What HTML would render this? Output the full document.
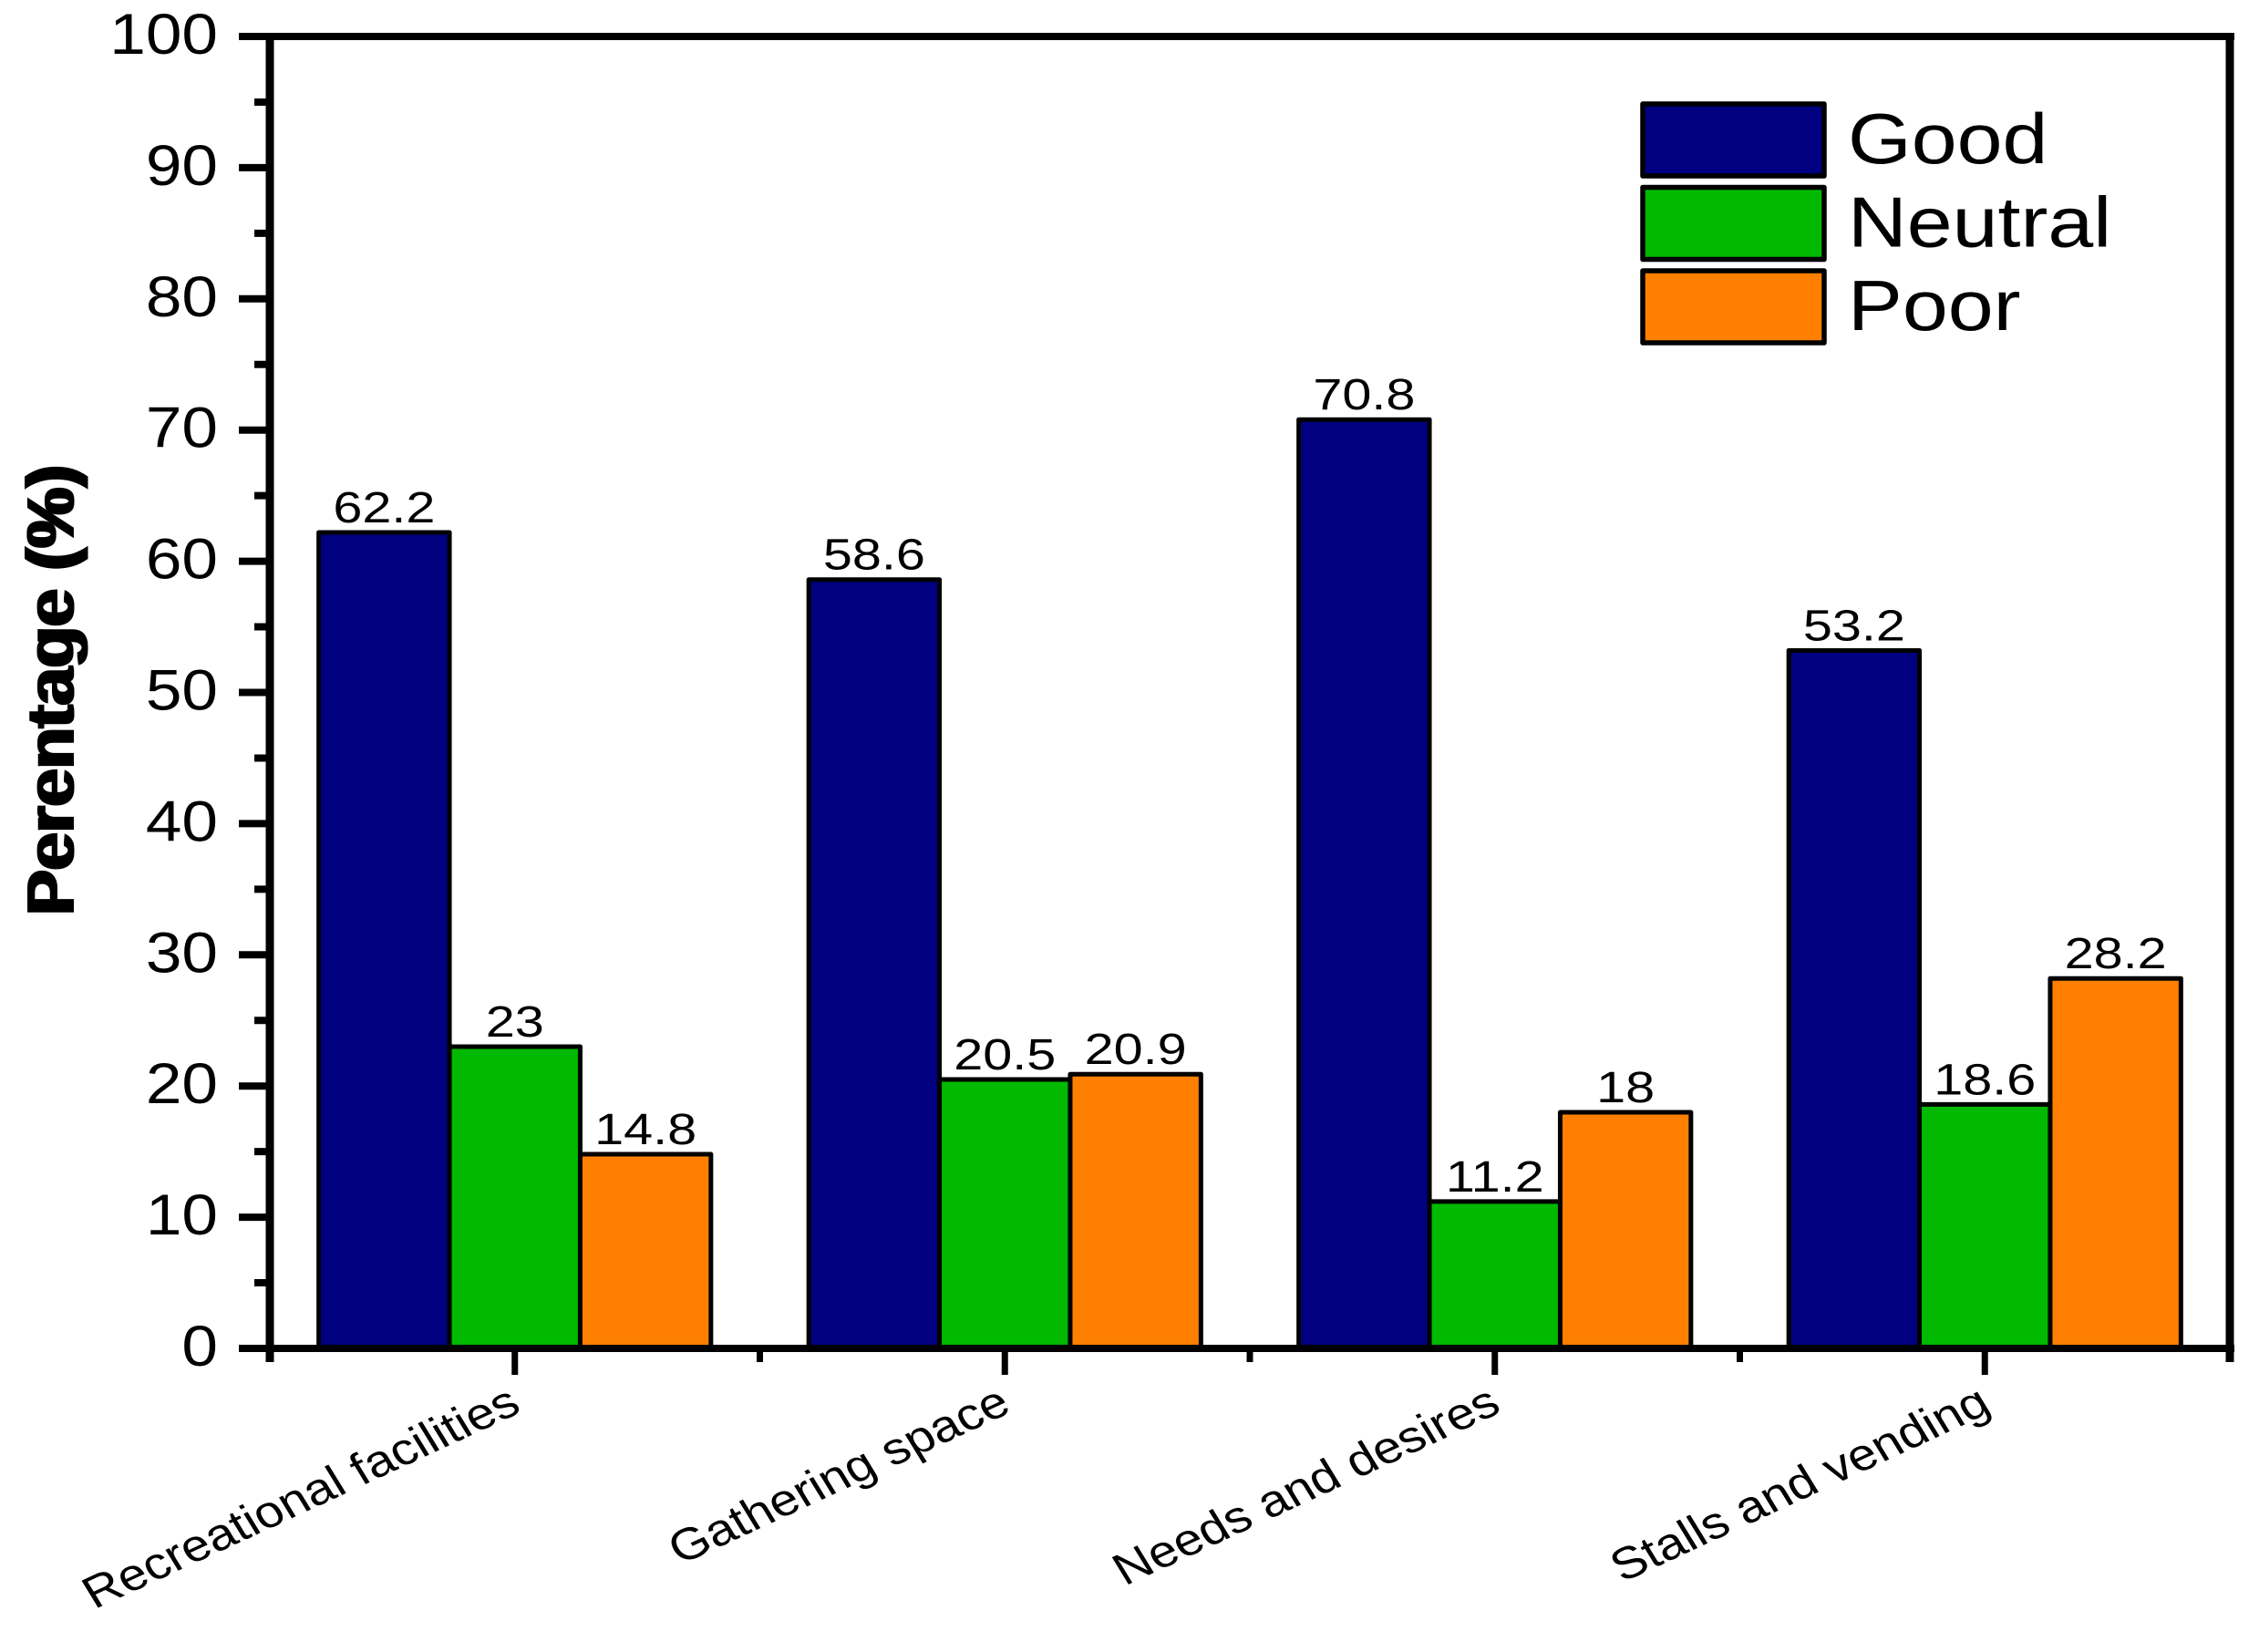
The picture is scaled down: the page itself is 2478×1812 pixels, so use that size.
<!DOCTYPE html>
<html lang="en">
<head>
<meta charset="utf-8">
<title>Perentage by category</title>
<style>
html,body{margin:0;padding:0;background:#fff;}
svg{display:block;}
text{font-family:"Liberation Sans",Arial,sans-serif;fill:#000;}
</style>
</head>
<body>
<svg id="chart" xmlns="http://www.w3.org/2000/svg" width="2478" height="1812" viewBox="0 0 2478 1812">
<defs>
<filter id="smear" filterUnits="userSpaceOnUse" x="0" y="450" width="140" height="620">
<feMorphology operator="dilate" radius="0 2"/>
</filter>
</defs>
<rect x="0" y="0" width="2478" height="1812" fill="#ffffff"/>
</svg>
<script>
const categories = ["Recreational facilities", "Gathering space", "Needs and desires", "Stalls and vending"];
const seriesNames = ["Good", "Neutral", "Poor"];
const seriesColors = ["#000080", "#00B900", "#FF8000"];
const good = [62.2, 58.6, 70.8, 53.2];
const neutral = [23, 20.5, 11.2, 18.6];
const poor = [14.8, 20.9, 18, 28.2];
const valueLabels = [
  ["62.2", "58.6", "70.8", "53.2"],
  ["23", "20.5", "11.2", "18.6"],
  ["14.8", "20.9", "18", "28.2"]
];
const yTickValues = [0, 10, 20, 30, 40, 50, 60, 70, 80, 90, 100];
const yMinorValues = [5, 15, 25, 35, 45, 55, 65, 75, 85, 95];

const seriesValues = [good, neutral, poor];
const svg = document.getElementById('chart');
const NS = 'http://www.w3.org/2000/svg';
const plot = { left: 296, right: 2446, top: 40, bottom: 1479 };
const STRETCH = 1.15;
const BAR_W = 143.4;

function yScale(v) {
  return plot.top + (100 - v) / 100 * (plot.bottom - plot.top);
}
function xBand(i) {
  return plot.left + (i + 0.5) * (plot.right - plot.left) / categories.length;
}
function xEdge(i) {
  return plot.left + i * (plot.right - plot.left) / categories.length;
}
function makeLine(x1, y1, x2, y2, w) {
  const l = document.createElementNS(NS, 'line');
  l.setAttribute('x1', x1);
  l.setAttribute('y1', y1);
  l.setAttribute('x2', x2);
  l.setAttribute('y2', y2);
  l.setAttribute('stroke', '#000');
  l.setAttribute('stroke-width', w);
  svg.appendChild(l);
  return l;
}
function makeText(str, x, y, size, anchor, sx, rot, weight) {
  const t = document.createElementNS(NS, 'text');
  t.textContent = str;
  t.setAttribute('font-size', size);
  t.setAttribute('text-anchor', anchor);
  if (weight) t.setAttribute('font-weight', weight);
  t.setAttribute('transform', 'translate(' + x + ' ' + y + ') scale(' + sx + ' 1) rotate(' + rot + ')');
  svg.appendChild(t);
  return t;
}

// bars
seriesValues.forEach(function (vals, s) {
  vals.forEach(function (v, i) {
    const x = xBand(i) - 1.5 * BAR_W + s * BAR_W;
    const r = document.createElementNS(NS, 'rect');
    
    
    r.setAttribute('x', x);
    r.setAttribute('y', yScale(v));
    r.setAttribute('width', BAR_W);
    r.setAttribute('height', yScale(0) - yScale(v));
    r.setAttribute('fill', seriesColors[s]);
    r.setAttribute('stroke', '#000');
    r.setAttribute('stroke-width', 5);
    r.setAttribute('stroke-linejoin', 'round');
    svg.appendChild(r);
    const lab = makeText(valueLabels[s][i], x + BAR_W / 2, yScale(v) - 11, 48, 'middle', 1.2, 0);
    
    
  });
});

// axes frame
const axisTop = makeLine(262, plot.top, plot.right + 5, plot.top, 8);


const axisBottom = makeLine(262, plot.bottom, plot.right + 5, plot.bottom, 8);


const axisLeft = makeLine(plot.left, plot.top - 4, plot.left, plot.bottom + 15, 9);


const axisRight = makeLine(plot.right, plot.top - 4, plot.right, plot.bottom + 15, 9);



// y ticks
yTickValues.forEach(function (v) {
  const tick = makeLine(262, yScale(v), plot.left, yScale(v), 8);
  
  
  const lab = makeText(String(v), 239, yScale(v) + 19, 63, 'end', 1.13, 0);
  
  
});
yMinorValues.forEach(function (v) {
  const tick = makeLine(279, yScale(v), plot.left, yScale(v), 8);
  
  
});

// x ticks and labels
categories.forEach(function (c, i) {
  const tick = makeLine(xBand(i), plot.bottom, xBand(i), plot.bottom + 29, 7);
  
  
  const lab = makeText(c, xBand(i) + 9, plot.bottom + 69, 49, 'end', STRETCH, -28);
  
  
  if (i > 0) {
    const minor = makeLine(xEdge(i), plot.bottom, xEdge(i), plot.bottom + 15, 7);
    
    
  }
});

// y title
const titleGroup = document.createElementNS(NS, 'g');


titleGroup.setAttribute('filter', 'url(#smear)');
svg.appendChild(titleGroup);
const yTitle = makeText('Perentage (%)', 81, 757, 74, 'middle', 1, -90, 'bold');


titleGroup.appendChild(yTitle);

// legend
seriesNames.forEach(function (name, s) {
  const top = 114 + s * 91.5;
  const sw = document.createElementNS(NS, 'rect');
  
  
  sw.setAttribute('x', 1802);
  sw.setAttribute('y', top);
  sw.setAttribute('width', 199);
  sw.setAttribute('height', 79);
  sw.setAttribute('fill', seriesColors[s]);
  sw.setAttribute('stroke', '#000');
  sw.setAttribute('stroke-width', 5.5);
  sw.setAttribute('stroke-linejoin', 'round');
  svg.appendChild(sw);
  const lab = makeText(name, 2027, top + 65, 78, 'start', STRETCH, 0);
  
  
});
</script>
</body>
</html>
